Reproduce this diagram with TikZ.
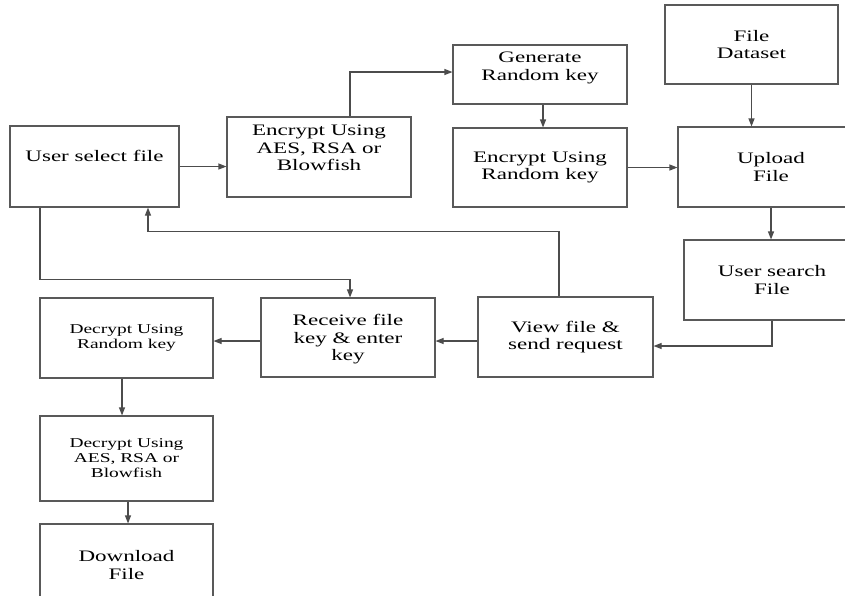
\documentclass[tikz,border=0pt]{standalone}
\usepackage{fontspec}
\setmainfont{Liberation Serif}[FakeStretch=1.44]
\usetikzlibrary{arrows.meta}
\tikzset{
  blk/.style={draw=black!65, line width=1.1pt, align=center, text=black, inner sep=0pt,
    font=\fontsize{16}{17.5}\selectfont},
  sml/.style={font=\fontsize{13.5}{15}\selectfont},
  ln/.style={draw=black!70, line width=1.1pt},
  arr/.style={ln, -{Triangle[length=8pt,width=6pt]}}
}
\begin{document}
\begin{tikzpicture}[x=1pt,y=-1pt]
    \path[use as bounding box, clip] (0,0) rectangle (845,595);
    \node[blk, minimum width=169pt, minimum height=81pt, text depth=21pt] (usf) at (94.5,166.5) {User select file};
    \node[blk, minimum width=184pt, minimum height=80pt, text depth=18pt] (encA) at (319,157) {Encrypt Using\\AES, RSA or\\Blowfish};
    \node[blk, minimum width=174pt, minimum height=59pt, text depth=16.5pt] (genkey) at (540,74.5) {Generate\\Random key};
    \node[blk, minimum width=174pt, minimum height=79pt] (encR) at (540,167.5) {Encrypt Using\\Random key};
    \node[blk, minimum width=173pt, minimum height=79pt] (dataset) at (751.5,44.5) {File\\Dataset};
    \node[blk, minimum width=186pt, minimum height=80pt] (upload) at (771,167) {Upload\\File};
    \node[blk, minimum width=176pt, minimum height=80pt] (search) at (772,280) {User search\\File};
    \node[blk, minimum width=175pt, minimum height=80pt] (view) at (565.5,337) {View file \&\\send request};
    \node[blk, minimum width=174pt, minimum height=79pt, text depth=0pt] (recv) at (348,337.5) {Receive file\\key \& enter\\key};
    \node[blk, sml, minimum width=173pt, minimum height=80pt] (decR) at (126.5,338) {Decrypt Using\\Random key};
    \node[blk, sml, minimum width=173pt, minimum height=85pt] (decA) at (126.5,458.5) {Decrypt Using\\AES, RSA or\\Blowfish};
    \node[blk, minimum width=173pt, minimum height=82pt] (down) at (126.5,565) {Download\\File};

    \draw[arr] (usf.east) -- (usf.east -| encA.west);
    \draw[arr] ([xshift=31pt]encA.north) |- ([yshift=2.5pt]genkey.west);
    \draw[arr] ([xshift=3pt]genkey.south) -- ([xshift=3pt]encR.north);
    \draw[arr] (encR.east) -- (encR.east -| upload.west);
    \draw[arr] (dataset.south) -- (dataset.south |- upload.north);
    \draw[arr] (upload.south) -- (upload.south |- search.north);
    \draw[arr] (search.south) |- ([yshift=-9pt]view.east);
    \draw[arr] ([yshift=-4pt]view.west) -- ([yshift=-4pt]view.west -| recv.east);
    \draw[arr] ([yshift=-3.5pt]recv.west) -- ([yshift=-3.5pt]recv.west -| decR.east);
    \draw[arr] ([xshift=-4.5pt]decR.south) -- ([xshift=-4.5pt]decR.south |- decA.north);
    \draw[arr] ([xshift=1.5pt]decA.south) -- ([xshift=1.5pt]decA.south |- down.north);
    \draw[arr] ([xshift=-54.5pt]usf.south) -- ++(0,72) -| ([xshift=2pt]recv.north);
    \draw[arr] ([xshift=-6.5pt]view.north) -- ++(0,-65) -| ([xshift=53.5pt]usf.south);
\end{tikzpicture}
\end{document}
